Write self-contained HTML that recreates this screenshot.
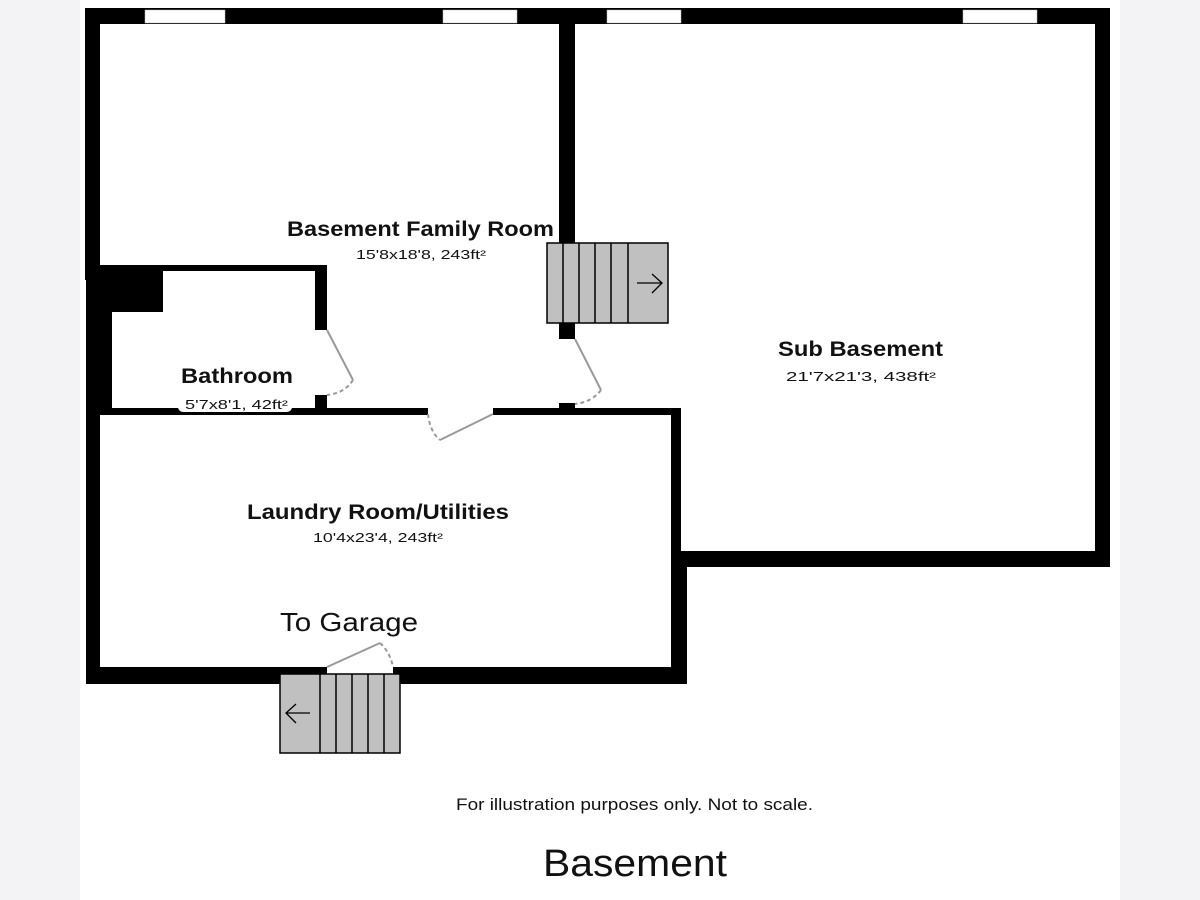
<!DOCTYPE html>
<html><head><style>html,body{margin:0;padding:0;background:#f3f2f5;}svg{display:block}</style></head>
<body>
<svg width="1200" height="900" xmlns="http://www.w3.org/2000/svg" font-family="Liberation Sans, sans-serif">
<rect x="80" y="0" width="1040" height="900" fill="#fff"/>
<g fill="#000">
<rect x="85" y="8" width="1025" height="16"/>
<rect x="85" y="8" width="15" height="272"/>
<rect x="86" y="265" width="77" height="47"/>
<rect x="86" y="280" width="26" height="132"/>
<rect x="86" y="400" width="14" height="284"/>
<rect x="100" y="265" width="227" height="6"/>
<rect x="315" y="265" width="12" height="65"/>
<rect x="315" y="395" width="12" height="15"/>
<rect x="559" y="8" width="16" height="236"/>
<rect x="559" y="323" width="16" height="16"/>
<rect x="559" y="403" width="16" height="8"/>
<rect x="100" y="408" width="328" height="7"/>
<rect x="493" y="408" width="188" height="7"/>
<rect x="671" y="408" width="10" height="276"/>
<rect x="671" y="551" width="16" height="133"/>
<rect x="1095" y="8" width="15" height="559"/>
<rect x="681" y="551" width="429" height="16"/>
<rect x="86" y="667" width="241" height="17"/>
<rect x="393" y="667" width="294" height="17"/>
</g>
<g fill="#fff" stroke="#bbb" stroke-width="0.5">
<rect x="145" y="10" width="80" height="13"/>
<rect x="443" y="10" width="74" height="13"/>
<rect x="607" y="10" width="74" height="13"/>
<rect x="963" y="10" width="74" height="13"/>
</g>
<g fill="#c0c0c0" stroke="#000" stroke-width="1.5">
<rect x="547" y="243" width="121" height="80"/>
<line x1="563" y1="243" x2="563" y2="323"/><line x1="579" y1="243" x2="579" y2="323"/>
<line x1="595" y1="243" x2="595" y2="323"/><line x1="611" y1="243" x2="611" y2="323"/>
<line x1="628" y1="243" x2="628" y2="323"/>
</g>
<path d="M637 283 H662 M652 274 L662 283 L652 293" fill="none" stroke="#000" stroke-width="1.3"/>
<g fill="#c0c0c0" stroke="#000" stroke-width="1.5">
<rect x="280" y="674" width="120" height="79"/>
<line x1="320" y1="674" x2="320" y2="753"/><line x1="336" y1="674" x2="336" y2="753"/>
<line x1="352" y1="674" x2="352" y2="753"/><line x1="368" y1="674" x2="368" y2="753"/>
<line x1="384" y1="674" x2="384" y2="753"/>
</g>
<path d="M310 713 H286 M296 704 L286 713 L296 723" fill="none" stroke="#000" stroke-width="1.3"/>
<g fill="none" stroke="#999" stroke-width="2">
<line x1="327" y1="330" x2="353" y2="380"/>
<path d="M353 380 Q345 393 327 395" stroke-dasharray="4,3"/>
<line x1="575" y1="339" x2="601" y2="390"/>
<path d="M601 390 Q592 402 575 404" stroke-dasharray="4,3"/>
<line x1="493" y1="414" x2="440" y2="440"/>
<path d="M428 414 Q430 432 440 440" stroke-dasharray="4,3"/>
<line x1="327" y1="667" x2="380" y2="643"/>
<path d="M380 643 Q390 652 393 667" stroke-dasharray="4,3"/>
</g>
<g fill="#111" lengthAdjust="spacingAndGlyphs">
<text x="287" y="236" font-size="21" font-weight="bold" textLength="267" lengthAdjust="spacingAndGlyphs">Basement Family Room</text>
<text x="356" y="259" font-size="13" textLength="130" lengthAdjust="spacingAndGlyphs">15'8x18'8, 243ft²</text>
<text x="778" y="356" font-size="21" font-weight="bold" textLength="165" lengthAdjust="spacingAndGlyphs">Sub Basement</text>
<text x="786" y="381" font-size="13" textLength="150" lengthAdjust="spacingAndGlyphs">21'7x21'3, 438ft²</text>
<text x="181" y="383" font-size="21" font-weight="bold" textLength="112" lengthAdjust="spacingAndGlyphs">Bathroom</text>
<rect x="178" y="397" width="114" height="15" rx="5" fill="#fff"/>
<text x="185" y="409" font-size="13" textLength="103" lengthAdjust="spacingAndGlyphs">5'7x8'1, 42ft²</text>
<text x="247" y="519" font-size="21" font-weight="bold" textLength="262" lengthAdjust="spacingAndGlyphs">Laundry Room/Utilities</text>
<text x="313" y="542" font-size="13" textLength="130" lengthAdjust="spacingAndGlyphs">10'4x23'4, 243ft²</text>
<text x="280" y="631" font-size="26" textLength="138" lengthAdjust="spacingAndGlyphs">To Garage</text>
<text x="456" y="810" font-size="17" textLength="357" lengthAdjust="spacingAndGlyphs">For illustration purposes only. Not to scale.</text>
<text x="543" y="876" font-size="38" textLength="184" lengthAdjust="spacingAndGlyphs">Basement</text>
</g>
</svg>
</body></html>
